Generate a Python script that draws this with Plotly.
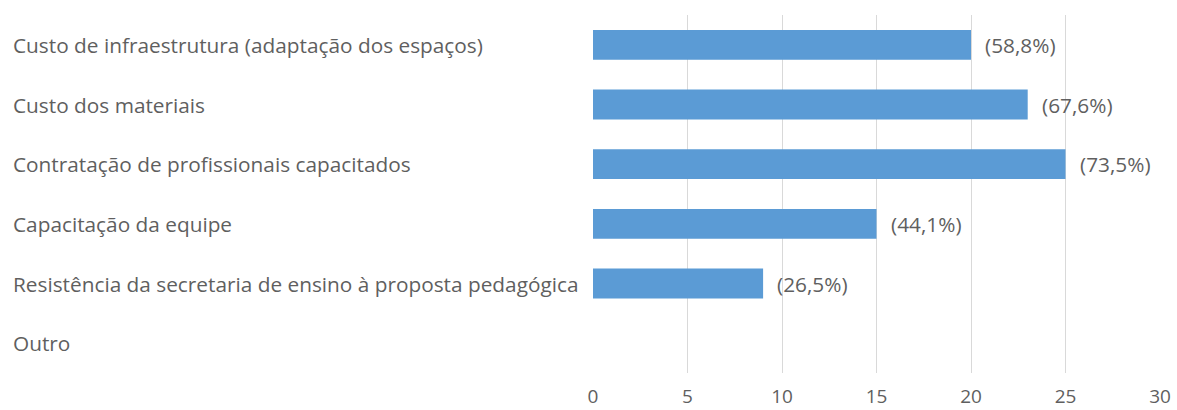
import plotly.graph_objects as go

categories = [
    "Custo de infraestrutura (adaptação dos espaços)",
    "Custo dos materiais",
    "Contratação de profissionais capacitados",
    "Capacitação da equipe",
    "Resistência da secretaria de ensino à proposta pedagógica",
    "Outro",
]
values = [20, 23, 25, 15, 9, 0]
labels = ["(58,8%)", "(67,6%)", "(73,5%)", "(44,1%)", "(26,5%)", ""]
x_ticks = [0, 5, 10, 15, 20, 25, 30]

FONT = "Open Sans"
GRAY = "#5f5f5f"
FS = 20.8

fig = go.Figure(go.Bar(
    x=values, y=categories, orientation="h",
    marker=dict(color="#5B9BD5", line=dict(width=0)),
    hoverinfo="x+y",
))

for c in categories:
    fig.add_annotation(x=0, xref="paper", xshift=-582, y=c, yref="y",
                       text=c, showarrow=False, xanchor="left",
                       font=dict(family=FONT, size=FS, color=GRAY))

for c, v, t in zip(categories, values, labels):
    if t:
        fig.add_annotation(x=v, xref="x", xshift=12, y=c, yref="y",
                           text=t, showarrow=False, xanchor="left",
                           font=dict(family=FONT, size=FS, color=GRAY))

fig.update_layout(
    width=1177, height=410,
    margin=dict(l=593, r=17, t=15, b=37, autoexpand=False),
    paper_bgcolor="white", plot_bgcolor="white",
    bargap=0.5, showlegend=False,
    font=dict(family=FONT, color=GRAY),
)
fig.update_xaxes(range=[0, 30], tickvals=x_ticks, showgrid=True,
                 gridcolor="#D9D9D9", gridwidth=1, zeroline=False,
                 showline=False, ticks="", ticklabelstandoff=10,
                 automargin=False,
                 tickfont=dict(family=FONT, size=19, color=GRAY))
fig.update_yaxes(categoryorder="array", categoryarray=categories,
                 autorange="reversed", showticklabels=False,
                 showgrid=False, zeroline=False, showline=False,
                 automargin=False)

fig.write_html("out.html")
